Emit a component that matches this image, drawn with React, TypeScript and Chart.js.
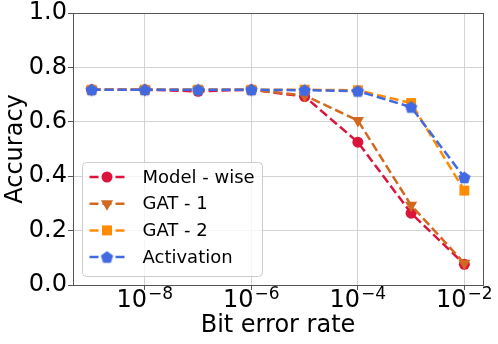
import React, { useEffect, useRef } from 'react';
import { Chart, registerables } from 'chart.js';

Chart.register(...registerables);

const berValues = [1e-9, 1e-8, 1e-7, 1e-6, 1e-5, 1e-4, 1e-3, 1e-2];
const modelWise = [0.718, 0.718, 0.712, 0.718, 0.693, 0.525, 0.264, 0.076];
const gat1 = [0.718, 0.718, 0.718, 0.718, 0.697, 0.605, 0.293, 0.080];
const gat2 = [0.718, 0.718, 0.718, 0.718, 0.718, 0.716, 0.669, 0.347];
const activation = [0.718, 0.718, 0.718, 0.718, 0.716, 0.713, 0.654, 0.395];
const xTickValues = [1e-8, 1e-6, 1e-4, 1e-2];
const xTickBase = '10';
const xTickExponents = ['−8', '−6', '−4', '−2'];
const seriesNames = ['Model - wise', 'GAT - 1', 'GAT - 2', 'Activation'];
const seriesColors = ['#DC143C', '#D2691E', '#FF8C00', '#4169E1'];

const FONT = "'DejaVu Sans', sans-serif";

function pentagon(color: string, r: number): HTMLCanvasElement {
  const size = Math.ceil(r * 2 + 2);
  const c = document.createElement('canvas');
  c.width = size;
  c.height = size;
  const ctx = c.getContext('2d')!;
  ctx.fillStyle = color;
  ctx.beginPath();
  for (let i = 0; i < 5; i++) {
    const a = -Math.PI / 2 + (i * 2 * Math.PI) / 5;
    const x = size / 2 + r * Math.cos(a);
    const y = size / 2 + 0.5 + r * Math.sin(a);
    if (i === 0) ctx.moveTo(x, y);
    else ctx.lineTo(x, y);
  }
  ctx.closePath();
  ctx.fill();
  return c;
}

function drawMarker(ctx: CanvasRenderingContext2D, kind: number, x: number, y: number, color: string, penta: HTMLCanvasElement) {
  ctx.save();
  ctx.fillStyle = color;
  ctx.beginPath();
  if (kind === 0) {
    ctx.arc(x, y, 5.5, 0, Math.PI * 2);
    ctx.fill();
  } else if (kind === 1) {
    const r = 7;
    ctx.moveTo(x, y + r);
    ctx.lineTo(x - r * Math.sin((2 * Math.PI) / 3), y - r * 0.5);
    ctx.lineTo(x + r * Math.sin((2 * Math.PI) / 3), y - r * 0.5);
    ctx.closePath();
    ctx.fill();
  } else if (kind === 2) {
    ctx.rect(x - 5, y - 5, 10, 10);
    ctx.fill();
  } else {
    ctx.drawImage(penta, x - penta.width / 2, y - penta.height / 2);
  }
  ctx.restore();
}

export default function App() {
  const ref = useRef<HTMLCanvasElement | null>(null);

  useEffect(() => {
    document.body.style.margin = '0';
    const canvas = ref.current;
    if (!canvas) return;
    const penta = pentagon(seriesColors[3], 6.5);
    const seriesData = [modelWise, gat1, gat2, activation];
    const styles: any[] = ['circle', 'triangle', 'rect', penta];
    const radii = [5.5, 7, 7, 6];
    const rotations = [0, 180, 0, 0];

    const framePlugin = {
      id: 'frameAndLegend',
      afterDatasetsDraw(chart: any) {
        const { ctx, chartArea } = chart;
        ctx.save();
        ctx.strokeStyle = '#555555';
        ctx.lineWidth = 1;
        ctx.strokeRect(
          Math.round(chartArea.left) + 0.5,
          Math.round(chartArea.top) + 0.5,
          Math.round(chartArea.right - chartArea.left),
          Math.round(chartArea.bottom - chartArea.top)
        );
        ctx.restore();
      },
      afterDraw(chart: any) {
        const { ctx, chartArea } = chart;
        // x tick labels with superscript exponents
        const xs = chart.scales.x;
        ctx.save();
        ctx.fillStyle = '#000000';
        ctx.textBaseline = 'alphabetic';
        ctx.textAlign = 'left';
        const baseY = chartArea.bottom + 22;
        xTickValues.forEach((v, i) => {
          const px = xs.getPixelForValue(v);
          ctx.font = `24px ${FONT}`;
          const wBase = ctx.measureText(xTickBase).width;
          ctx.font = `17px ${FONT}`;
          const wExp = ctx.measureText(xTickExponents[i]).width;
          const total = wBase + 1 + wExp;
          const start = px - total / 2;
          ctx.font = `24px ${FONT}`;
          ctx.fillText(xTickBase, start, baseY);
          ctx.font = `17px ${FONT}`;
          ctx.fillText(xTickExponents[i], start + wBase + 1, baseY - 8);
        });
        ctx.restore();

        // legend
        const w = 180;
        const h = 114;
        const x0 = chartArea.left + 9.5;
        const y0 = chartArea.bottom - 8.5 - h;
        ctx.save();
        ctx.beginPath();
        const rr = 4;
        ctx.moveTo(x0 + rr, y0);
        ctx.lineTo(x0 + w - rr, y0);
        ctx.arcTo(x0 + w, y0, x0 + w, y0 + rr, rr);
        ctx.lineTo(x0 + w, y0 + h - rr);
        ctx.arcTo(x0 + w, y0 + h, x0 + w - rr, y0 + h, rr);
        ctx.lineTo(x0 + rr, y0 + h);
        ctx.arcTo(x0, y0 + h, x0, y0 + h - rr, rr);
        ctx.lineTo(x0, y0 + rr);
        ctx.arcTo(x0, y0, x0 + rr, y0, rr);
        ctx.closePath();
        ctx.fillStyle = 'rgba(255,255,255,0.8)';
        ctx.fill();
        ctx.strokeStyle = '#cccccc';
        ctx.lineWidth = 1;
        ctx.stroke();
        for (let i = 0; i < seriesNames.length; i++) {
          const y = y0 + 14.5 + i * 26.7;
          ctx.save();
          ctx.strokeStyle = seriesColors[i];
          ctx.lineWidth = 2.5;
          ctx.setLineDash([9, 4]);
          ctx.beginPath();
          ctx.moveTo(x0 + 7, y);
          ctx.lineTo(x0 + 42, y);
          ctx.stroke();
          ctx.restore();
          drawMarker(ctx, i, x0 + 24.5, y, seriesColors[i], penta);
          ctx.fillStyle = '#000000';
          ctx.font = `18px ${FONT}`;
          ctx.textBaseline = 'middle';
          ctx.textAlign = 'left';
          ctx.fillText(seriesNames[i], x0 + 60, y + 1);
        }
        ctx.restore();
      },
    };

    const chart = new Chart(canvas, {
      type: 'line',
      data: {
        datasets: seriesNames.map((name, i) => ({
          label: name,
          data: berValues.map((x, j) => ({ x, y: seriesData[i][j] })),
          borderColor: seriesColors[i],
          backgroundColor: seriesColors[i],
          borderWidth: 2.5,
          borderDash: [9, 4],
          pointStyle: styles[i],
          pointRadius: radii[i],
          pointRotation: rotations[i],
          pointBorderWidth: 0,
          pointBackgroundColor: seriesColors[i],
          pointBorderColor: seriesColors[i],
          fill: false,
          tension: 0,
          order: 4 - i,
        })),
      },
      options: {
        responsive: false,
        animation: false,
        events: [],
        layout: { padding: { top: 13, right: 15, left: 0, bottom: 0 } },
        plugins: {
          legend: { display: false },
          tooltip: { enabled: false },
        },
        scales: {
          x: {
            type: 'logarithmic',
            min: Math.pow(10, -9.35),
            max: Math.pow(10, -1.65),
            afterBuildTicks: (scale: any) => {
              scale.ticks = xTickValues.map((v) => ({ value: v, major: true }));
            },
            afterFit: (scale: any) => {
              scale.height = 59;
              scale.paddingLeft = 0;
              scale.paddingRight = 0;
            },
            ticks: {
              autoSkip: false,
              maxRotation: 0,
              minRotation: 0,
              padding: 1,
              color: '#000000',
              font: { family: FONT, size: 24 },
              callback: () => '',
            },
            grid: { color: '#d3d3d3', tickColor: '#555555', tickLength: 5, lineWidth: 1 },
            border: { display: false },
            title: {
              display: true,
              text: 'Bit error rate',
              color: '#000000',
              font: { family: FONT, size: 24 },
              padding: { top: 0, bottom: 4 },
            },
          },
          y: {
            type: 'linear',
            min: 0,
            max: 1,
            afterFit: (scale: any) => {
              scale.width = 73;
              scale.paddingTop = 0;
              scale.paddingBottom = 0;
            },
            ticks: {
              stepSize: 0.2,
              padding: 1,
              color: '#000000',
              font: { family: FONT, size: 24 },
              callback: (value: any) => Number(value).toFixed(1),
            },
            grid: { color: '#d3d3d3', tickColor: '#555555', tickLength: 5, lineWidth: 1 },
            border: { display: false },
            title: {
              display: true,
              text: 'Accuracy',
              color: '#000000',
              font: { family: FONT, size: 24 },
              padding: { top: 1, bottom: 0 },
            },
          },
        },
      },
      plugins: [framePlugin],
    } as any);

    return () => {
      chart.destroy();
    };
  }, []);

  return (
    <div style={{ width: 498, height: 344, background: '#ffffff' }}>
      <canvas ref={ref} width={498} height={344} style={{ display: 'block', width: 498, height: 344 }} />
    </div>
  );
}
